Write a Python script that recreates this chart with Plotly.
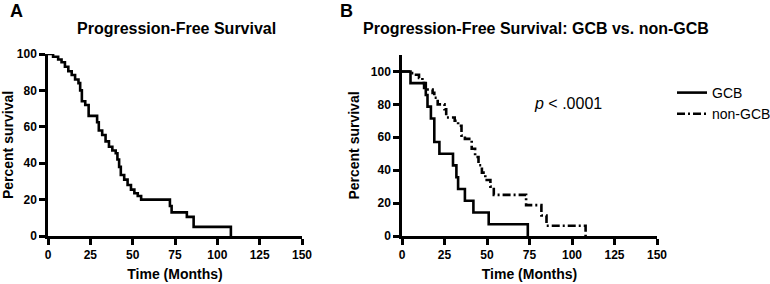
import plotly.graph_objects as go

# ---- Data ----
pfs_time = [0, 3, 6, 8, 10, 12, 14, 16, 18, 19, 20, 22, 24, 29, 30, 32, 34, 36, 38, 40, 41, 42, 43, 45, 47, 49, 51, 53, 55, 72, 73, 82, 86, 108]
pfs_surv = [100, 98.5, 97, 95.5, 93, 90.5, 88.5, 86, 84, 80, 74, 72, 66, 62.5, 58, 55.5, 52, 49, 47, 45.5, 42, 38, 33.5, 31, 28, 25.5, 23.5, 22, 20, 16.5, 13, 10.5, 5, 0]

gcb_time = [0, 5, 14, 15, 17, 19, 22, 30, 32, 33, 37, 42, 51, 74]
gcb_surv = [100, 92.9, 85.7, 78.6, 71.4, 57.1, 50, 42.9, 35.7, 28.6, 21.4, 14.3, 7.1, 0]

ngcb_time = [0, 4, 7, 10, 12, 13, 18, 19, 21, 25, 26, 31, 33, 35, 37, 41, 43, 45, 47, 49, 52, 54, 73, 82, 85, 108]
ngcb_surv = [100, 99, 98, 96, 93, 89, 87, 84, 80, 77, 72, 70, 67, 61, 59, 53, 48, 43, 38.5, 34, 30, 25, 18.75, 12.5, 6.25, 0]

x_ticks = [0, 25, 50, 75, 100, 125, 150]
y_ticks = [0, 20, 40, 60, 80, 100]

W, H = 770, 284
FONT = "Liberation Sans, Arial, sans-serif"

def px_x(p):
    return p / W

def px_y(p):
    return 1 - p / H

fig = go.Figure()

fig.add_trace(go.Scatter(x=pfs_time, y=pfs_surv, mode="lines", line=dict(shape="hv", color="black", width=2.6),
                         showlegend=False, xaxis="x", yaxis="y"))
fig.add_trace(go.Scatter(x=gcb_time, y=gcb_surv, mode="lines", name="GCB",
                         line=dict(shape="hv", color="black", width=2.6), xaxis="x2", yaxis="y2"))
fig.add_trace(go.Scatter(x=ngcb_time, y=ngcb_surv, mode="lines", name="non-GCB",
                         line=dict(shape="hv", color="black", width=2.6, dash="8px,3px,2px,3px"), xaxis="x2", yaxis="y2"))

axis_common = dict(showline=True, linecolor="black", linewidth=2.5, ticks="outside", ticklen=6, tickwidth=2.5,
                   tickcolor="black", showgrid=False, zeroline=False, automargin=False,
                   tickfont=dict(family=FONT, size=12, color="black", weight="bold"),
                   title_font=dict(family=FONT, size=14, color="black", weight="bold"))

def ann(text, x, y, size, **kw):
    return dict(text=text, x=px_x(x), y=px_y(y), xref="paper", yref="paper", showarrow=False,
                xanchor="center", yanchor="middle", font=dict(family=FONT, size=size, color="black"), **kw)

fig.update_layout(
    width=W, height=H, margin=dict(l=0, r=0, t=0, b=0, autoexpand=False),
    paper_bgcolor="white", plot_bgcolor="white",
    xaxis=dict(domain=[px_x(48), px_x(302)], range=[0, 150], tickvals=x_ticks, anchor="y",
               title=dict(text="Time (Months)", standoff=9), **axis_common),
    yaxis=dict(domain=[px_y(236), px_y(54)], range=[0, 100], tickvals=y_ticks, anchor="x",
               title=dict(text="Percent survival", standoff=8), **axis_common),
    xaxis2=dict(domain=[px_x(402), px_x(657)], range=[0, 150], tickvals=x_ticks, anchor="y2",
                title=dict(text="Time (Months)", standoff=9), **axis_common),
    yaxis2=dict(domain=[px_y(236), px_y(55)], range=[0, 110], tickvals=y_ticks, anchor="x2",
                title=dict(text="Percent survival", standoff=8), **axis_common),
    legend=dict(x=px_x(672), y=px_y(77), xanchor="left", yanchor="top",
                font=dict(family=FONT, size=14, color="black"), bgcolor="rgba(0,0,0,0)",
                tracegroupgap=0),
    annotations=[
        ann("<b>A</b>", 16, 11, 18),
        ann("<b>B</b>", 346, 11, 18),
        ann("<b>Progression-Free Survival</b>", 176, 29, 16),
        ann("<b>Progression-Free Survival: GCB vs. non-GCB</b>", 536, 29, 16),
        ann("<i>p</i> &lt; .0001", 568, 104, 16),
    ],
)

fig.write_html("out.html", config={"displayModeBar": False},
               post_script="document.body.style.margin='0';document.body.style.overflow='hidden';")
